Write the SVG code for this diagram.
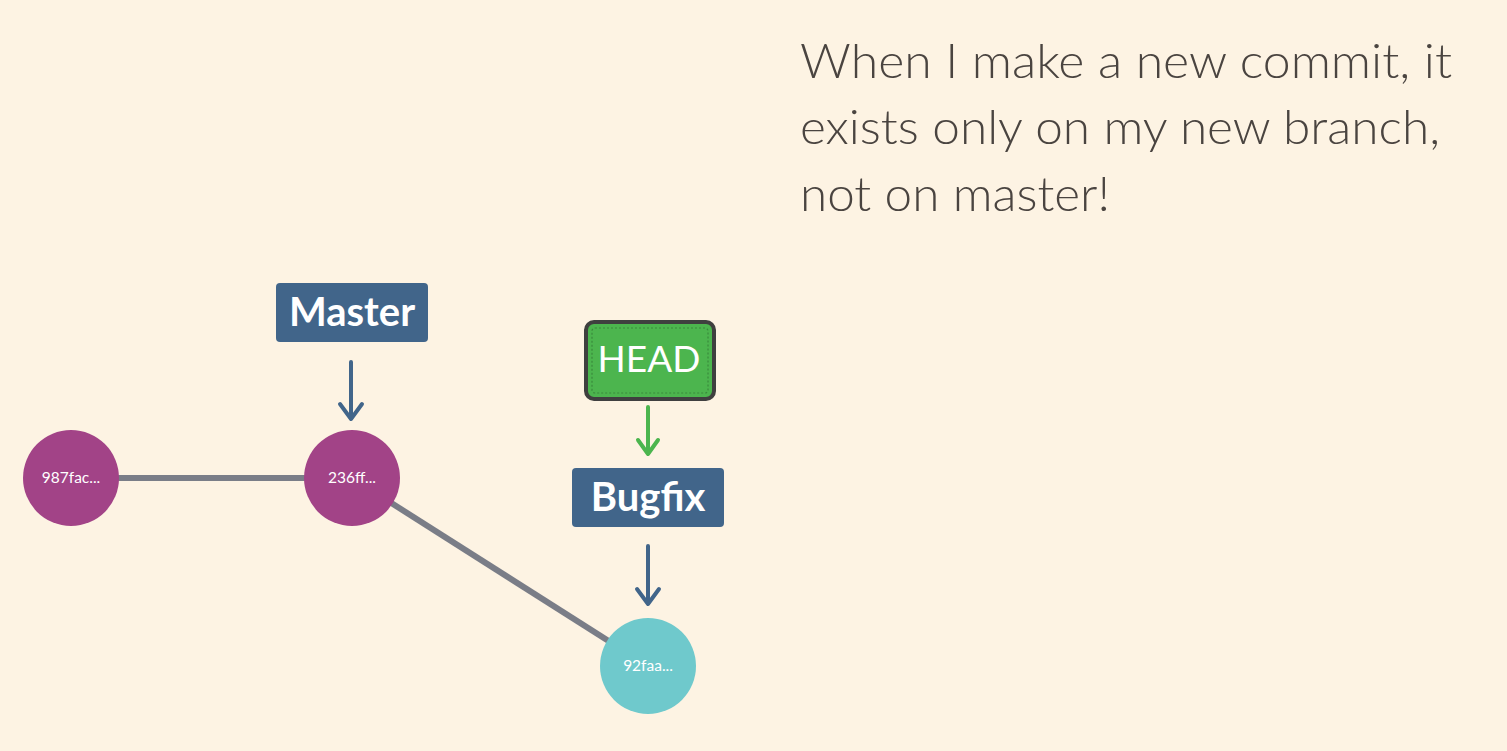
<svg xmlns="http://www.w3.org/2000/svg" width="1507" height="751" viewBox="0 0 1507 751">
  <defs>
    <style>
      .caption { font-family: "Lato", "Noto Sans", sans-serif; font-weight: 300; font-size: 47px; fill: #4a4440; }
      .branch { font-family: "Lato", "Noto Sans", sans-serif; font-weight: 700; font-size: 40px; fill: #ffffff; text-anchor: middle; }
      .head { font-family: "Lato", "Noto Sans", sans-serif; font-weight: 400; font-size: 37px; fill: #ffffff; text-anchor: middle; }
      .commit { font-family: "Lato", "Noto Sans", sans-serif; font-weight: 400; font-size: 15.5px; fill: #ffffff; text-anchor: middle; }
      .edge { stroke: #7a7d87; stroke-width: 6; fill: none; }
      .ptr-blue { stroke: #41658a; stroke-width: 4; fill: none; stroke-linecap: round; stroke-linejoin: round; }
      .ptr-green { stroke: #4cb54e; stroke-width: 4; fill: none; stroke-linecap: round; stroke-linejoin: round; }
      .branchbox { fill: #41658a; }
    </style>
  </defs>
  <rect width="1507" height="751" fill="#fdf3e3"/>

  <g id="caption">
    <text class="caption" x="800" y="78" textLength="652" lengthAdjust="spacingAndGlyphs">When I make a new commit, it</text>
    <text class="caption" x="800" y="144" textLength="640" lengthAdjust="spacingAndGlyphs">exists only on my new branch,</text>
    <text class="caption" x="800" y="211" textLength="310" lengthAdjust="spacingAndGlyphs">not on master!</text>
  </g>

  <g id="connectors">
    <line class="edge" x1="71" y1="478" x2="352" y2="478"/>
    <line class="edge" x1="352" y1="478" x2="648" y2="666"/>
    <path class="ptr-blue" d="M351 362 V419 M340 404 L351 419 L362 404"/>
    <path class="ptr-green" d="M648 407 V454 M638 440 L648 454 L658 440"/>
    <path class="ptr-blue" d="M648 546 V604 M637 589 L648 604 L659 589"/>
  </g>

  <g id="commit-987fac">
    <circle cx="71" cy="478" r="48" fill="#a24387"/>
    <text class="commit" x="71" y="483">987fac...</text>
  </g>
  <g id="commit-236ff">
    <circle cx="352" cy="478" r="48" fill="#a24387"/>
    <text class="commit" x="352" y="483">236ff...</text>
  </g>
  <g id="commit-92faa">
    <circle cx="648" cy="666" r="48" fill="#6fc9cc"/>
    <text class="commit" x="648" y="671">92faa...</text>
  </g>

  <g id="branch-master">
    <rect class="branchbox" x="276" y="283" width="152" height="59" rx="4"/>
    <text class="branch" x="352" y="326">Master</text>
  </g>
  <g id="head">
    <rect x="586" y="322" width="128" height="77" rx="8" fill="#4cb54e" stroke="#3f3f3f" stroke-width="4"/>
    <rect x="592" y="328" width="116" height="65" rx="3" fill="none" stroke="#3a8a3c" stroke-width="1.2" stroke-dasharray="2 2"/>
    <text class="head" x="649" y="372">HEAD</text>
  </g>
  <g id="branch-bugfix">
    <rect class="branchbox" x="572" y="468" width="152" height="59" rx="4"/>
    <text class="branch" x="648" y="511">Bugfix</text>
  </g>
</svg>
